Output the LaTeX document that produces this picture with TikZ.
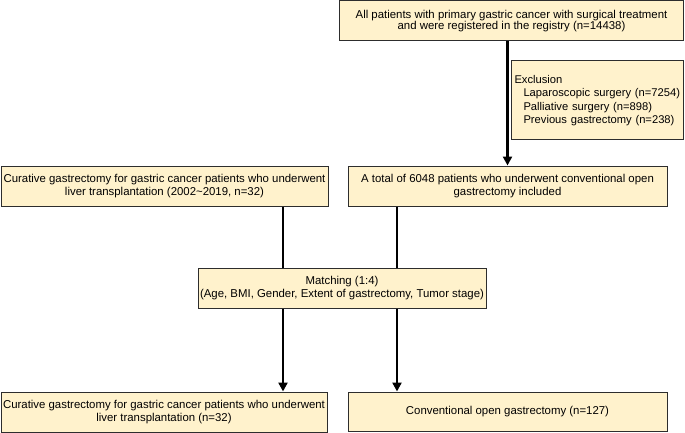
\documentclass[tikz,border=0pt]{standalone}
\usepackage{fontspec}
\setmainfont{Liberation Sans}
\usetikzlibrary{arrows.meta}
\definecolor{boxfill}{RGB}{255,242,204}
\definecolor{boxline}{RGB}{45,45,45}

\begin{document}
\begin{tikzpicture}[x=1pt,y=-1pt,
    flowbox/.style={draw=boxline,fill=boxfill,line width=1pt,inner sep=1.5pt,align=center,
                    font=\fontsize{11.4}{12.7}\selectfont},
    link/.style={line width=2.6pt},
    flow/.style={link,-{Triangle[length=9pt,width=9pt]}}]
        \useasboundingbox (0,0) rectangle (685,433);

        % registry and exclusion
        \node[flowbox,minimum width=344pt,minimum height=40pt,font=\fontsize{11.4}{11.8}\selectfont] (all) at (511.5,21)
            {All patients with primary gastric cancer with surgical treatment\\and were registered in the registry (n=14438)};
        \node[flowbox,align=left,inner sep=3pt,text width=166pt,minimum height=79pt,
              font=\fontsize{11.2}{13.3}\selectfont] (excl) at (597.5,100.5)
            {Exclusion\\
             \hspace*{9pt}Laparoscopic surgery (n=7254)\\
             \hspace*{9pt}Palliative surgery (n=898)\\
             \hspace*{9pt}Previous gastrectomy (n=238)};

        % the two groups
        \node[flowbox,minimum width=327pt,minimum height=40pt] (lt) at (164.5,186)
            {Curative gastrectomy for gastric cancer patients who underwent\\liver transplantation (2002\textasciitilde2019, n=32)};
        \node[flowbox,minimum width=319pt,minimum height=40pt] (rt) at (507.5,186)
            {A total of 6048 patients who underwent conventional open\\gastrectomy included};

        \node[flowbox,minimum width=288pt,minimum height=40pt] (match) at (342,288)
            {Matching (1:4)\\(Age, BMI, Gender, Extent of gastrectomy, Tumor stage)};

        % after matching
        \node[flowbox,minimum width=326pt,minimum height=40pt] (botL) at (164,412)
            {Curative gastrectomy for gastric cancer patients who underwent\\liver transplantation (n=32)};
        \node[flowbox,minimum width=319pt,minimum height=39pt] (botR) at (507.5,411.5)
            {Conventional open gastrectomy (n=127)};

        \coordinate (colL) at (283,0);
        \coordinate (colR) at (397,0);

        \draw[flow] (all.south -| rt.north) -- (rt.north);
        \draw[link] (lt.south -| colL) -- (match.north -| colL);
        \draw[link] (rt.south -| colR) -- (match.north -| colR);
        \draw[flow] (match.south -| colL) -- (botL.north -| colL);
        \draw[flow] (match.south -| colR) -- (botR.north -| colR);
\end{tikzpicture}
\end{document}
